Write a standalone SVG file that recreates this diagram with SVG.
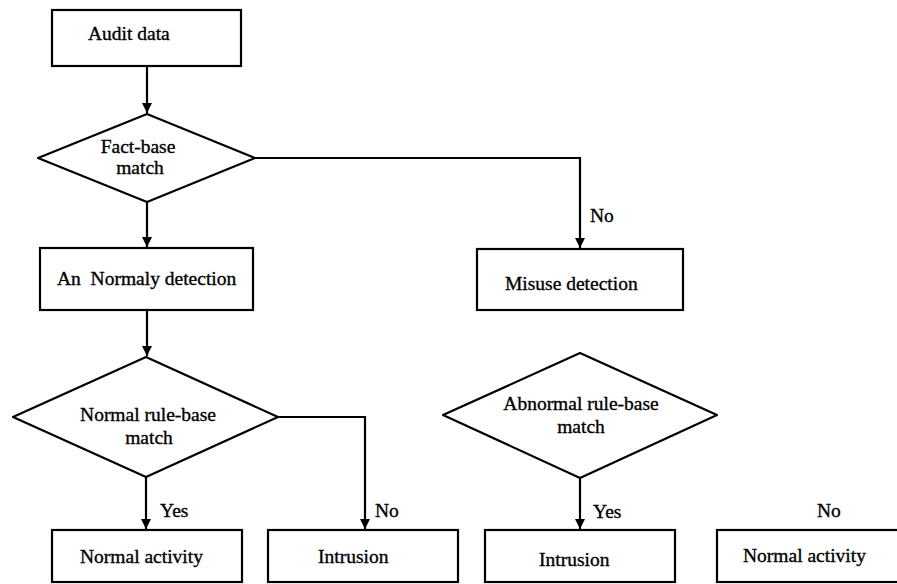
<svg xmlns="http://www.w3.org/2000/svg" width="897" height="584" viewBox="0 0 897 584">
<style>
.box{fill:#fff;stroke:#000;stroke-width:2.2}
.dia{fill:#fff;stroke:#000;stroke-width:2.2;stroke-linejoin:round}
.con{fill:none;stroke:#000;stroke-width:2.2}
text{font-family:"Liberation Serif","Times New Roman",serif;font-size:19.5px;fill:#000;stroke:#000;stroke-width:0.35}
</style>
<defs>
<marker id="arr" markerUnits="userSpaceOnUse" markerWidth="12" markerHeight="12" refX="10" refY="5" orient="auto">
<path d="M0,0 L10,5 L0,10 Z" fill="#000"/>
</marker>
</defs>
<rect width="897" height="584" fill="#fff"/>
<g id="connectors">
<path class="con" d="M147,66 V113" marker-end="url(#arr)"/>
<path class="con" d="M147,202 V247" marker-end="url(#arr)"/>
<path class="con" d="M255,158 H580 V248" marker-end="url(#arr)"/>
<path class="con" d="M147,310 V356" marker-end="url(#arr)"/>
<path class="con" d="M146,477 V529" marker-end="url(#arr)"/>
<path class="con" d="M278,417 H365 V529" marker-end="url(#arr)"/>
<path class="con" d="M580,478 V529" marker-end="url(#arr)"/>
<text x="590" y="222">No</text>
<text x="160" y="517">Yes</text>
<text x="375" y="517">No</text>
<text x="593" y="518">Yes</text>
<text x="817" y="517">No</text>
</g>
<g id="audit">
<rect class="box" x="52" y="10" width="189" height="56"/>
<text x="88" y="40">Audit data</text>
</g>
<g id="factbase">
<polygon class="dia" points="147,114 255,158 147,202 38,158"/>
<text x="138" y="153" text-anchor="middle">Fact-base</text>
<text x="140" y="174" text-anchor="middle">match</text>
</g>
<g id="anomaly">
<rect class="box" x="40" y="248" width="213" height="62"/>
<text x="57" y="285" xml:space="preserve">An  Normaly detection</text>
</g>
<g id="misuse">
<rect class="box" x="477" y="249" width="206" height="61"/>
<text x="505" y="290">Misuse detection</text>
</g>
<g id="normalrule">
<polygon class="dia" points="146,357 278,417 146,477 13,417"/>
<text x="148" y="421" text-anchor="middle">Normal rule-base</text>
<text x="149" y="444" text-anchor="middle">match</text>
</g>
<g id="abnormalrule">
<polygon class="dia" points="580,353 717,415 580,478 443,415"/>
<text x="581" y="410" text-anchor="middle">Abnormal rule-base</text>
<text x="581" y="433" text-anchor="middle">match</text>
</g>
<g id="normal1">
<rect class="box" x="52" y="530" width="190" height="52"/>
<text x="80" y="563">Normal activity</text>
</g>
<g id="intrusion1">
<rect class="box" x="268" y="530" width="190" height="52"/>
<text x="318" y="563">Intrusion</text>
</g>
<g id="intrusion2">
<rect class="box" x="485" y="530" width="190" height="52"/>
<text x="539" y="566">Intrusion</text>
</g>
<g id="normal2">
<rect class="box" x="717" y="530" width="190" height="52"/>
<text x="743" y="562">Normal activity</text>
</g>
</svg>
